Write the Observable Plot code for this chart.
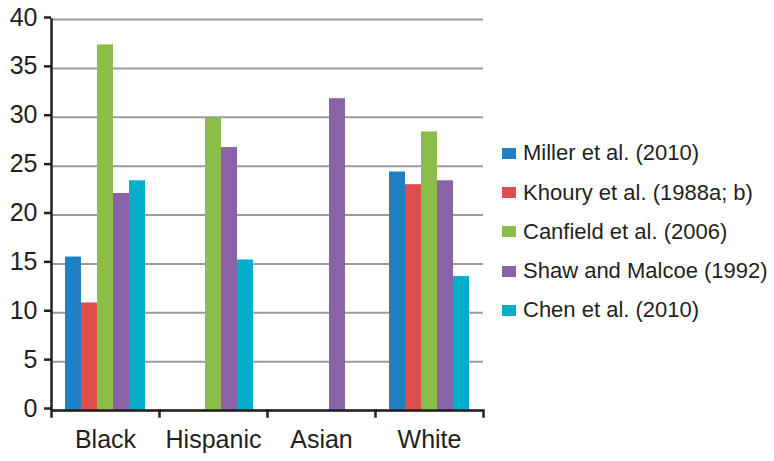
<!DOCTYPE html>
<html>
<head>
<meta charset="utf-8">
<script src="https://cdn.jsdelivr.net/npm/d3@7"></script>
<script src="https://cdn.jsdelivr.net/npm/@observablehq/plot@0.6"></script>
<style>
  html, body { margin: 0; padding: 0; background: #ffffff; }
  #wrap { position: relative; width: 774px; height: 461px; font-family: "Liberation Sans", Arial, Helvetica, sans-serif; color: #231f20; }
  #legend { position: absolute; left: 502px; top: 133.6px; }
  .row { display: flex; align-items: center; height: 39.3px; font-size: 22px; white-space: nowrap; }
  .sw { width: 14px; height: 11px; margin-right: 7px; flex: none; }
</style>
</head>
<body>
<div id="wrap"></div>
<script>
const categories = ["Black", "Hispanic", "Asian", "White"];
const series = ["Miller et al. (2010)", "Khoury et al. (1988a; b)", "Canfield et al. (2006)", "Shaw and Malcoe (1992)", "Chen et al. (2010)"];
const colors = ["#1f80c3", "#e04d4d", "#8bbd4b", "#8a62a6", "#00aec9"];
const miller   = [15.7, null, null, 24.4];
const khoury   = [11.0, null, null, 23.1];
const canfield = [37.4, 29.9, null, 28.5];
const shaw     = [22.2, 26.9, 31.9, 23.5];
const chen     = [23.5, 15.4, null, 13.7];
const yTicks = [0, 5, 10, 15, 20, 25, 30, 35, 40];

const seriesValues = [miller, khoury, canfield, shaw, chen];
const rows = [];
categories.forEach((c, i) => {
  series.forEach((s, j) => {
    const v = seriesValues[j][i];
    if (v != null) rows.push({category: c, series: s, value: v});
  });
});

const ink = "#231f20";
const chart = Plot.plot({
  width: 774,
  height: 461,
  marginLeft: 50,
  marginRight: 291,
  marginTop: 19,
  marginBottom: 51,
  style: {fontFamily: "'Liberation Sans', Arial, Helvetica, sans-serif", fontSize: "25px", color: ink, background: "#ffffff"},
  fx: {domain: categories, padding: 0, label: null, axis: null},
  x: {domain: series, paddingInner: 0, paddingOuter: 0.77, axis: null},
  y: {domain: [0, 40], axis: null},
  color: {domain: series, range: colors},
  marks: [
    Plot.gridY(yTicks, {stroke: "#9a9a9a", strokeOpacity: 1, strokeWidth: 2}),
    Plot.barY(rows, {fx: "category", x: "series", y: "value", fill: "series"}),
    Plot.ruleY([0], {stroke: ink, strokeWidth: 2.5}),
    Plot.frame({anchor: "left", facetAnchor: "left", stroke: ink, strokeWidth: 2.5, insetBottom: -6}),
    Plot.frame({anchor: "right", stroke: ink, strokeWidth: 2.5, insetTop: 391, insetBottom: -6}),
    Plot.axisY(yTicks, {tickSize: 7, tickPadding: 7, fontSize: 25, stroke: ink, strokeWidth: 2.5, label: null, dy: -2}),
    Plot.axisFx({anchor: "bottom", tickSize: 0, tickPadding: 20, fontSize: 25, label: null})
  ]
});

const wrap = document.getElementById("wrap");
wrap.appendChild(chart);

const legend = document.createElement("div");
legend.id = "legend";
series.forEach((s, j) => {
  const row = document.createElement("div");
  row.className = "row";
  const sw = document.createElement("span");
  sw.className = "sw";
  sw.style.background = colors[j];
  const t = document.createElement("span");
  t.textContent = s;
  row.appendChild(sw);
  row.appendChild(t);
  legend.appendChild(row);
});
wrap.appendChild(legend);
</script>
</body>
</html>
